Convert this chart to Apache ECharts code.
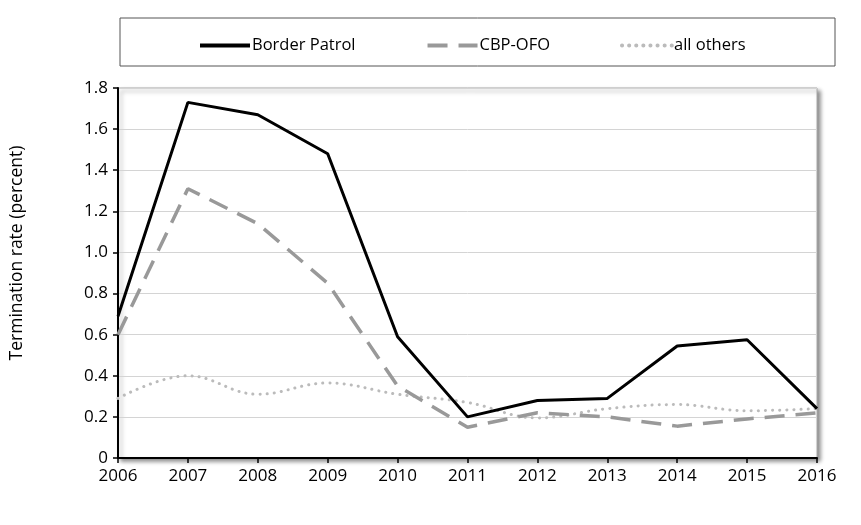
<!DOCTYPE html>
<html><head><meta charset="utf-8">
<script src="https://cdn.jsdelivr.net/npm/echarts@6/dist/echarts.min.js"></script>
<style>html,body{margin:0;padding:0;background:#fff}#c{width:861px;height:525px}</style>
</head><body><div id="c"></div>
<script>
const years = ['2006','2007','2008','2009','2010','2011','2012','2013','2014','2015','2016'];
const borderPatrol = [0.69,1.73,1.67,1.48,0.59,0.20,0.28,0.29,0.545,0.575,0.24];
const cbpOfo = [0.60,1.31,1.14,0.85,0.35,0.15,0.22,0.20,0.155,0.19,0.22];
const allOthers = [0.29,0.40,0.31,0.365,0.31,0.27,0.195,0.24,0.26,0.23,0.24];
const yTicks = ['0','0.2','0.4','0.6','0.8','1.0','1.2','1.4','1.6','1.8'];

const chart = echarts.init(document.getElementById('c'));
const F = '"Open Sans", Lato, sans-serif';
chart.setOption({
  animation:false,
  backgroundColor:'#fff',
  graphic:[{type:'rect',shape:{x:120,y:18,width:715,height:48},style:{fill:'none',stroke:'#555',lineWidth:1},z:0}],
  legend:{
    top:32, left:193, itemWidth:50, itemHeight:12, itemGap:70,
    itemStyle:{opacity:0},
    lineStyle:{width:4},
    textStyle:{fontFamily:'"Liberation Sans Narrow", "Open Sans", sans-serif',fontSize:16.5,color:'#000',padding:[0,0,0,-3]},
    data:['Border Patrol','CBP-OFO','all others']
  },
  grid:{left:116,right:44,top:88,bottom:67,show:true,borderColor:'#aaa',borderWidth:1,backgroundColor:'#fff',
    shadowColor:'rgba(0,0,0,0.45)',shadowBlur:4,shadowOffsetX:3,shadowOffsetY:3},
  xAxis:{type:'category',data:years,boundaryGap:false,
    axisLine:{lineStyle:{color:'#000',width:2}},
    axisTick:{show:true,length:5,lineStyle:{color:'#000',width:1.5}},
    axisLabel:{color:'#000',fontFamily:F,fontSize:17,margin:10},
    splitLine:{show:false}},
  yAxis:{type:'value',min:0,max:1.8,interval:0.2,
    name:'Termination rate (percent)',nameLocation:'middle',nameGap:92,
    nameTextStyle:{fontFamily:F,fontSize:17.5,color:'#000',padding:[0,0,0,40]},
    axisLine:{show:true,lineStyle:{color:'#000',width:2}},
    axisTick:{show:true,length:5,lineStyle:{color:'#000',width:1.5}},
    axisLabel:{color:'#000',fontFamily:F,fontSize:17,margin:10,formatter:(v)=>yTicks[Math.round(v/0.2)]},
    splitLine:{lineStyle:{color:'#d4d4d4',width:1}}},
  series:[
    {name:'Border Patrol',type:'line',data:borderPatrol,symbol:'none',
      lineStyle:{color:'#000',width:3},itemStyle:{color:'#000'},z:5},
    {name:'CBP-OFO',type:'line',data:cbpOfo,symbol:'none',
      lineStyle:{color:'#999',width:3.5,type:[20,11]},itemStyle:{color:'#999'},z:4},
    {name:'all others',type:'line',data:allOthers,symbol:'none',smooth:0.4,
      lineStyle:{color:'#bbb',width:3,type:[0.1,7],cap:'round'},itemStyle:{color:'#bbb'},z:3}
  ]
});
</script></body></html>
